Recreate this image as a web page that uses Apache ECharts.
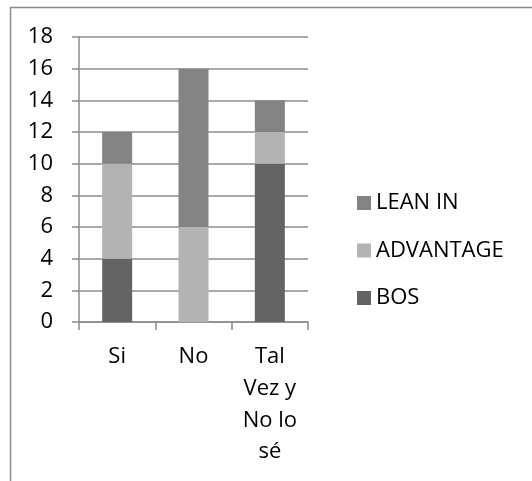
<!DOCTYPE html>
<html>
<head>
<meta charset="utf-8">
<style>
  html, body { margin: 0; padding: 0; background: #fff; }
  #chart { width: 532px; height: 481px; }
</style>
<script src="https://cdn.jsdelivr.net/npm/echarts@6/dist/echarts.min.js"></script>
</head>
<body>
<div id="chart"></div>
<script>
// Answer categories and stacked counts per group
const categories = ['Si', 'No', 'Tal Vez y No lo sé'];
const bosValues = [4, 0, 10];
const advantageValues = [6, 6, 2];
const leanInValues = [2, 10, 2];
const yTicks = { min: 0, max: 18, step: 2 };

const FONT = '"Open Sans", "DejaVu Sans", sans-serif';
const FONT_SIZE = 22;
const GRID_COLOR = '#8c8c8c';

// Wrap a label into lines of at most `max` characters, splitting on spaces
function wrapWords(text, max) {
  const lines = [];
  let line = '';
  text.split(' ').forEach(function (word) {
    const candidate = line ? line + ' ' + word : word;
    if (line && candidate.length > max) {
      lines.push(line);
      line = word;
    } else {
      line = candidate;
    }
  });
  if (line) lines.push(line);
  return lines.join('\n');
}

const chart = echarts.init(document.getElementById('chart'));

chart.setOption({
  animation: false,
  backgroundColor: '#ffffff',
  textStyle: { fontFamily: FONT },
  grid: { left: 79, right: 224, top: 37, bottom: 159, containLabel: false },
  legend: {
    orient: 'vertical',
    left: 352,
    top: 187,
    itemWidth: 14,
    itemHeight: 14,
    itemGap: 25.5,
    icon: 'rect',
    data: ['LEAN IN', 'ADVANTAGE', 'BOS'],
    textStyle: { fontSize: FONT_SIZE, color: '#000', fontFamily: FONT, lineHeight: 22 }
  },
  xAxis: {
    type: 'category',
    data: categories,
    axisLine: { show: true, lineStyle: { color: GRID_COLOR, width: 1.5 } },
    axisTick: { show: true, length: 8, alignWithLabel: false, lineStyle: { color: GRID_COLOR, width: 1.5 } },
    axisLabel: {
      fontSize: FONT_SIZE,
      color: '#000',
      fontFamily: FONT,
      lineHeight: 31.7,
      margin: 19,
      interval: 0,
      formatter: function (v) { return wrapWords(v, 5); }
    }
  },
  yAxis: {
    type: 'value',
    min: yTicks.min,
    max: yTicks.max,
    interval: yTicks.step,
    axisLine: { show: true, lineStyle: { color: GRID_COLOR, width: 1.5 } },
    axisTick: { show: true, length: 7, lineStyle: { color: GRID_COLOR, width: 1.5 } },
    splitLine: { show: true, lineStyle: { color: GRID_COLOR, width: 1.5 } },
    axisLabel: { fontSize: FONT_SIZE, color: '#000', fontFamily: FONT, margin: 26 }
  },
  series: [
    { name: 'BOS', type: 'bar', stack: 'total', data: bosValues, barWidth: 30, itemStyle: { color: '#646464' } },
    { name: 'ADVANTAGE', type: 'bar', stack: 'total', data: advantageValues, barWidth: 30, itemStyle: { color: '#b3b3b3' } },
    { name: 'LEAN IN', type: 'bar', stack: 'total', data: leanInValues, barWidth: 30, itemStyle: { color: '#838383' } }
  ],
  graphic: [
    // frame lines along the top and left edges
    { type: 'line', shape: { x1: 10, y1: 7.5, x2: 532, y2: 7.5 }, style: { stroke: '#8c8c8c', lineWidth: 1.5 } },
    { type: 'line', shape: { x1: 10.5, y1: 7, x2: 10.5, y2: 481 }, style: { stroke: '#8c8c8c', lineWidth: 1.5 } }
  ]
});
</script>
</body>
</html>
